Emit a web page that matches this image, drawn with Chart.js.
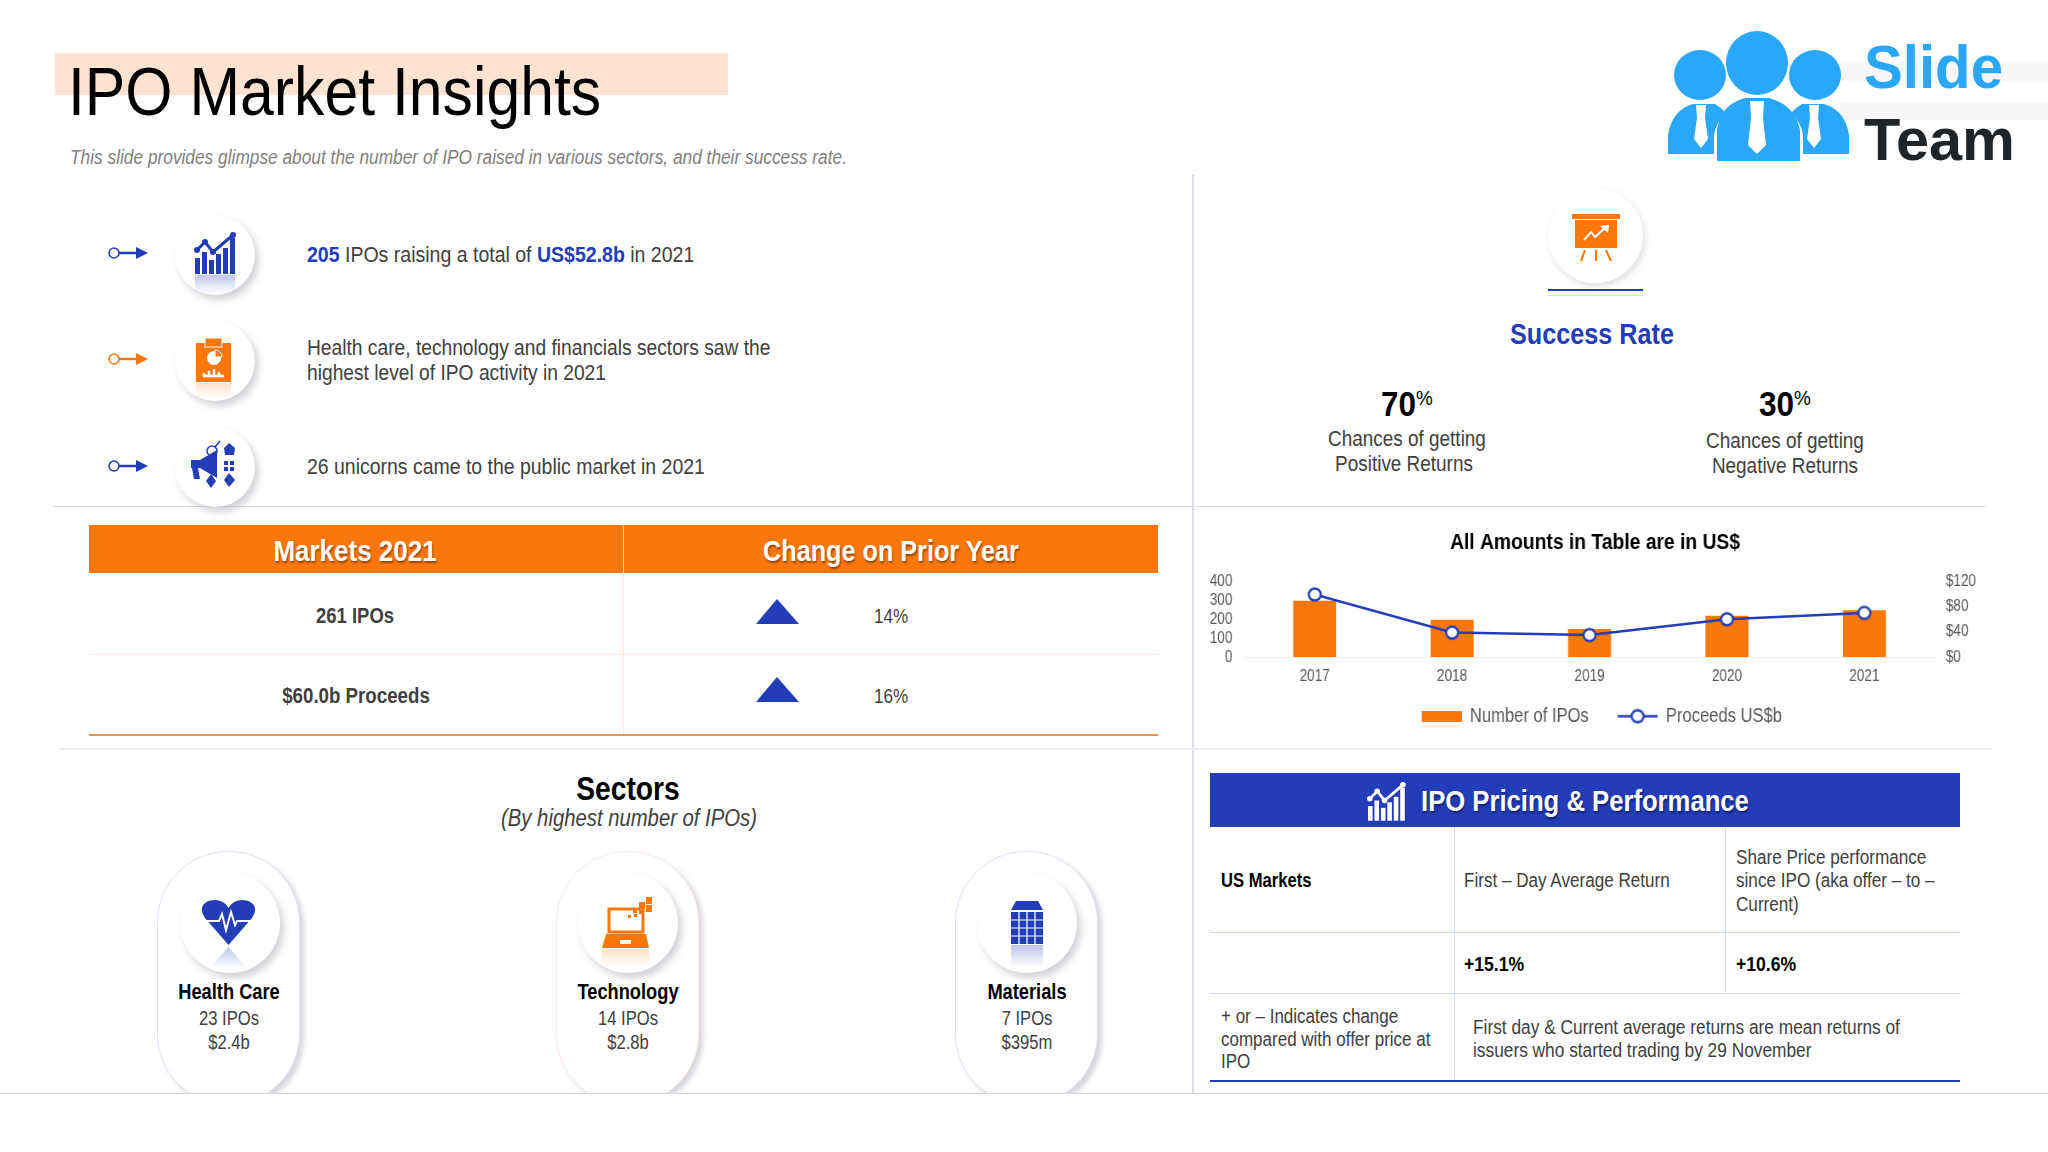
<!DOCTYPE html>
<html>
<head>
<meta charset="utf-8">
<title>IPO Market Insights</title>
<script src="https://cdn.jsdelivr.net/npm/chart.js@4"></script>
<style>
html, body { margin: 0; padding: 0; background: #fff; }
#slide { position: relative; width: 2048px; height: 1152px; overflow: hidden; background: #fff;
  font-family: "Liberation Sans", sans-serif; color: #404040; }
#slide > *, #pills > * { position: absolute; }
/* el original usa una fuente estrecha: se comprime en horizontal */
.t { --n: .87; white-space: nowrap; transform: translateY(-50%) scaleX(var(--n)); transform-origin: left center; line-height: 1; }
.c { --n: .86; white-space: nowrap; transform: translate(-50%, -50%) scaleX(var(--n)); line-height: 1; text-align: center; }
.b { font-weight: 700; --n: .84; }
.k { color: #000; }
.blue { color: #233db8; font-weight: 700; }
.line { background: #dcdce4; }
.dot { border-radius: 50%; background: #fff; box-shadow: 4px 5px 7px rgba(110,110,125,.3); }
.pill { width: 143px; height: 254px; top: 851px; border-radius: 71px; background: #fff; box-sizing: border-box;
  box-shadow: 4px 4px 5px rgba(120,120,140,.3); }
.sh { color: #fff; font-weight: 700; --n: .85; text-shadow: 1px 2px 2px rgba(60,30,0,.55); }
</style>
</head>
<body>
<div id="slide">
  <div style="left:55px;top:53px;width:673px;height:42px;background:#fde3d0"></div>
  <div class="t k" style="left:68px;top:91px;font-size:69px;--n:.88">IPO Market Insights</div>
  <div class="t" style="left:70px;top:157px;font-size:20px;font-style:italic;color:#7f7f7f;--n:.865">This slide provides glimpse about the number of IPO raised in various sectors, and their success rate.</div>

  <div style="left:1840px;top:62px;width:208px;height:20px;background:#f7f7f9"></div>
  <div style="left:1840px;top:103px;width:208px;height:17px;background:#f7f7f9"></div>

  <div class="line" style="left:1192px;top:174px;width:2px;height:919px"></div>
  <div class="line" style="left:53px;top:506px;width:1933px;height:1px"></div>
  <div class="line" style="left:60px;top:748px;width:1932px;height:2px;background:#ececf0"></div>

  <div class="dot" style="left:175px;top:215px;width:80px;height:80px"></div>
  <div class="dot" style="left:175px;top:321px;width:80px;height:80px"></div>
  <div class="dot" style="left:175px;top:427px;width:80px;height:80px"></div>
  <div class="dot" style="left:1548px;top:188px;width:95px;height:95px;box-shadow:2px 3px 6px rgba(110,110,125,.22)"></div>

  <div style="left:1548px;top:289px;width:95px;height:2px;background:#233db8"></div>
  <div style="left:1548px;top:295px;width:95px;height:1px;background:#f9dcc6"></div>

  <div class="t" style="left:307px;top:255px;font-size:22px;--n:.887"><span class="blue">205</span> IPOs raising a total of <span class="blue">US$52.8b</span> in 2021</div>
  <div class="t" style="left:307px;top:348px;font-size:22px;--n:.873">Health care, technology and financials sectors saw the</div>
  <div class="t" style="left:307px;top:373px;font-size:22px;--n:.873">highest level of IPO activity in 2021</div>
  <div class="t" style="left:307px;top:467px;font-size:22px;--n:.884">26 unicorns came to the public market in 2021</div>

  <div class="c blue" style="left:1592px;top:334px;font-size:30px;--n:.84">Success Rate</div>
  <div class="c b k" style="left:1407px;top:403px;font-size:35px;--n:.9">70<sup style="font-size:21px;font-weight:400;vertical-align:11px;line-height:0">%</sup></div>
  <div class="c b k" style="left:1785px;top:403px;font-size:35px;--n:.9">30<sup style="font-size:21px;font-weight:400;vertical-align:11px;line-height:0">%</sup></div>
  <div class="c" style="left:1407px;top:439px;font-size:22px">Chances of getting</div>
  <div class="c" style="left:1404px;top:464px;font-size:22px">Positive Returns</div>
  <div class="c" style="left:1785px;top:441px;font-size:22px">Chances of getting</div>
  <div class="c" style="left:1785px;top:466px;font-size:22px">Negative Returns</div>

  <!-- tabla mercados -->
  <div style="left:89px;top:525px;width:1069px;height:48px;background:#fa770c"></div>
  <div style="left:623px;top:525px;width:1px;height:48px;background:#fcd9bd"></div>
  <div style="left:623px;top:573px;width:1px;height:162px;background:#fbeadf"></div>
  <div style="left:89px;top:654px;width:1069px;height:1px;background:#fbeadf"></div>
  <div style="left:89px;top:734px;width:1069px;height:2px;background:#f39245"></div>
  <div class="c sh" style="left:355px;top:551px;font-size:30px;--n:.866">Markets 2021</div>
  <div class="c sh" style="left:891px;top:551px;font-size:30px;--n:.84">Change on Prior Year</div>
  <div class="c b" style="left:355px;top:616px;font-size:22px">261 IPOs</div>
  <div class="c b" style="left:356px;top:696px;font-size:22px;--n:.85">$60.0b Proceeds</div>
  <div class="c" style="left:891px;top:616px;font-size:20px;--n:.85">14%</div>
  <div class="c" style="left:891px;top:696px;font-size:20px;--n:.85">16%</div>

  <!-- sectores -->
  <div class="c b k" style="left:628px;top:788px;font-size:34px;--n:.83">Sectors</div>
  <div class="c" style="left:629px;top:818px;font-size:24px;font-style:italic;--n:.845">(By highest number of IPOs)</div>
  <div id="pills" style="left:0;top:0;width:2048px;height:1093px;overflow:hidden">
    <div class="pill" style="left:157px;border:1px solid #dfe2f6"></div>
    <div class="pill" style="left:556px;border:1px solid #fbeadf"></div>
    <div class="pill" style="left:955px;border:1px solid #dfe2f6"></div>
    <div class="dot" style="left:180px;top:873px;width:100px;height:100px"></div>
    <div class="dot" style="left:578px;top:873px;width:100px;height:100px"></div>
    <div class="dot" style="left:977px;top:873px;width:100px;height:100px"></div>
  </div>
  <div style="left:0;top:1093px;width:2048px;height:1px;background:#d8d8e0"></div>
  <div class="c b k" style="left:229px;top:992px;font-size:22px;--n:.83">Health Care</div>
  <div class="c" style="left:229px;top:1018px;font-size:20px;--n:.83">23 IPOs</div>
  <div class="c" style="left:229px;top:1042px;font-size:20px;--n:.83">$2.4b</div>
  <div class="c b k" style="left:628px;top:992px;font-size:22px;--n:.83">Technology</div>
  <div class="c" style="left:628px;top:1018px;font-size:20px;--n:.83">14 IPOs</div>
  <div class="c" style="left:628px;top:1042px;font-size:20px;--n:.83">$2.8b</div>
  <div class="c b k" style="left:1027px;top:992px;font-size:22px;--n:.83">Materials</div>
  <div class="c" style="left:1027px;top:1018px;font-size:20px;--n:.83">7 IPOs</div>
  <div class="c" style="left:1027px;top:1042px;font-size:20px;--n:.83">$395m</div>

  <!-- tabla pricing -->
  <div style="left:1210px;top:773px;width:750px;height:54px;background:#233db8"></div>
  <div style="left:1454px;top:827px;width:1px;height:254px;background:#d5daf3"></div>
  <div style="left:1725px;top:827px;width:1px;height:166px;background:#d5daf3"></div>
  <div style="left:1210px;top:932px;width:750px;height:1px;background:#d5daf3"></div>
  <div style="left:1210px;top:993px;width:750px;height:1px;background:#d5daf3"></div>
  <div style="left:1210px;top:1080px;width:750px;height:2px;background:#233db8"></div>
  <div class="t sh" style="left:1421px;top:801px;font-size:30px;text-shadow:1px 2px 2px rgba(0,0,40,.5);--n:.855">IPO Pricing &amp; Performance</div>
  <div class="t b k" style="left:1221px;top:880px;font-size:20px;--n:.83">US Markets</div>
  <div class="t" style="left:1464px;top:880px;font-size:20px;--n:.854">First – Day Average Return</div>
  <div class="t" style="left:1736px;top:857px;font-size:20px;--n:.856">Share Price performance</div>
  <div class="t" style="left:1736px;top:880px;font-size:20px;--n:.856">since IPO (aka offer – to –</div>
  <div class="t" style="left:1736px;top:904px;font-size:20px;--n:.856">Current)</div>
  <div class="t b k" style="left:1464px;top:964px;font-size:20px;--n:.88">+15.1%</div>
  <div class="t b k" style="left:1736px;top:964px;font-size:20px;--n:.88">+10.6%</div>
  <div class="t" style="left:1221px;top:1016px;font-size:20px;--n:.85">+ or – Indicates change</div>
  <div class="t" style="left:1221px;top:1039px;font-size:20px;--n:.85">compared with offer price at</div>
  <div class="t" style="left:1221px;top:1061px;font-size:20px;--n:.85">IPO</div>
  <div class="t" style="left:1473px;top:1027px;font-size:20px;--n:.865">First day &amp; Current average returns are mean returns of</div>
  <div class="t" style="left:1473px;top:1050px;font-size:20px;--n:.865">issuers who started trading by 29 November</div>

  <!-- iconos -->
  <svg width="2048" height="1152" style="left:0;top:0;pointer-events:none">
    <defs>
      <linearGradient id="fb" x1="0" y1="0" x2="0" y2="1"><stop offset="0" stop-color="#233db8" stop-opacity=".3"/><stop offset="1" stop-color="#233db8" stop-opacity="0"/></linearGradient>
      <linearGradient id="fo" x1="0" y1="0" x2="0" y2="1"><stop offset="0" stop-color="#fa770c" stop-opacity=".22"/><stop offset="1" stop-color="#fa770c" stop-opacity="0"/></linearGradient>
      <g id="growth">
        <rect x="195" y="258" width="5" height="16"/><rect x="202" y="252" width="5" height="22"/>
        <rect x="209" y="260" width="5" height="14"/><rect x="216" y="254" width="5" height="20"/>
        <rect x="223" y="248" width="5" height="26"/><rect x="230" y="238" width="5" height="36"/>
        <path d="M197 250 L205 242 L213 252 L233 235" fill="none" stroke="currentColor" stroke-width="3"/>
        <circle cx="197" cy="250" r="3"/><circle cx="205" cy="242" r="3"/><circle cx="213" cy="252" r="3"/><circle cx="233" cy="235" r="3"/>
      </g>
      <g id="arrow">
        <circle cx="114" cy="0" r="5" fill="none" stroke="currentColor" stroke-width="1.5"/>
        <path d="M119 0 H138" stroke="currentColor" stroke-width="2.5"/>
        <path d="M136 -6 L148 0 L136 6 Z" fill="currentColor"/>
      </g>
    </defs>

    <use href="#arrow" transform="translate(0 253)" style="color:#233db8"/>
    <use href="#arrow" transform="translate(0 359)" style="color:#fa770c"/>
    <use href="#arrow" transform="translate(0 466)" style="color:#233db8"/>

    <use href="#growth" fill="#233db8" style="color:#233db8"/>
    <rect x="195" y="275" width="40" height="18" fill="url(#fb)"/>
    <use href="#growth" fill="#fff" style="color:#fff" transform="translate(1368 783) scale(.92) translate(-195 -233)"/>

    <rect x="196" y="343" width="35" height="39" rx="1" fill="#fa770c"/>
    <rect x="205" y="338" width="17" height="9" fill="#fa770c" stroke="#fff"/>
    <circle cx="214" cy="358" r="7" fill="#fff"/>
    <path d="M214 358 V351 A7 7 0 0 1 221 358 Z" fill="#fa770c" stroke="#fff" transform="translate(1 -1)"/>
    <path d="M204 376 V373 M209 376 V371 M214 376 V369 M219 376 V372 M224 376 H203" stroke="#fff" stroke-width="2.5"/>
    <rect x="196" y="383" width="35" height="15" fill="url(#fo)"/>

    <path d="M191 460 H200 L217 450 V478 L200 468 H198 L200 479 H194 L192 468 H191 Z" fill="#233db8"/>
    <circle cx="212" cy="451" r="5" fill="none" stroke="#233db8" stroke-width="1.5"/>
    <path d="M215 447 L220 441" stroke="#233db8" stroke-width="1.5"/>
    <path d="M229 443 L235 448 L234 455 L225 455 L224 448 Z M224 461 h4 v4 h-4z M230 461 h4 v4 h-4z M224 467 h4 v4 h-4z M230 467 h4 v4 h-4z" fill="#233db8"/>
    <path d="M211 474 L216 481 L211 488 L206 481 Z" fill="#233db8"/>
    <path d="M229 473 L235 480 L229 487 L224 480 Z" fill="#233db8"/>

    <rect x="1572" y="214" width="48" height="5" fill="#fa770c"/>
    <rect x="1575" y="220" width="42" height="28" fill="#fa770c"/>
    <path d="M1584 240 L1591 232 L1595 237 L1606 227" fill="none" stroke="#fff" stroke-width="2"/>
    <path d="M1600 226 L1609 225 L1608 233 Z" fill="#fff"/>
    <path d="M1585 250 L1581 261 M1596 250 V261 M1606 250 L1611 261" stroke="#fa770c" stroke-width="2"/>

    <path d="M228.5 945 L205 918 C197 906 206 900 215 900 C222 900 226 904 228.5 908 C231 904 235 900 242 900 C251 900 260 906 252 918 Z" fill="#233db8"/>
    <path d="M203 921 H219 L222 914 L226 930 L231 912 L235 925 L237 921 H255" fill="none" stroke="#fff" stroke-width="2"/>
    <path d="M228.5 947 L210 968 H247 Z" fill="url(#fb)"/>

    <rect x="609" y="909" width="34" height="23" fill="none" stroke="#fa770c" stroke-width="3"/>
    <path d="M606 934 H646 L649 948 H602 Z" fill="#fa770c"/>
    <rect x="620" y="940" width="11" height="4" fill="#fff"/>
    <path d="M646 897 h6 v7 h-6z M646 905 h6 v7 h-6z M639 902 h6 v6 h-6z M639 909 h5 v5 h-5z M633 908 h4 v5 h-4z M628 915 h3 v3 h-3z M634 914 h3 v3 h-3z" fill="#fa770c"/>
    <rect x="602" y="949" width="47" height="18" fill="url(#fo)"/>

    <path d="M1016 901 H1038 L1043 910 H1011 Z" fill="#233db8"/>
    <rect x="1011" y="912" width="32" height="32" fill="#233db8"/>
    <path d="M1019 912 V944 M1027 912 V944 M1035 912 V944 M1011 920 H1043 M1011 928 H1043 M1011 936 H1043" stroke="#fff" stroke-width="1.2"/>
    <rect x="1011" y="945" width="32" height="22" fill="url(#fb)"/>

    <!-- logo -->
    <g fill="#2aa7f8">
      <ellipse cx="1757" cy="63" rx="31" ry="32"/>
      <ellipse cx="1700" cy="75" rx="26" ry="25"/>
      <ellipse cx="1815" cy="75" rx="26" ry="25"/>
      <path d="M1668 154 V135 Q1672 110 1693 104 L1715 104 Q1722 108 1726 113 Q1716 122 1714 135 V154 Z"/>
      <path d="M1849 154 V135 Q1845 110 1824 104 L1802 104 Q1795 108 1791 113 Q1801 122 1803 135 V154 Z"/>
      <path d="M1717 161 V130 Q1720 105 1745 98 L1769 98 Q1795 105 1800 130 V161 Z"/>
    </g>
    <g fill="#fff">
      <path d="M1750 101 H1764 L1763 118 L1766 145 L1757 154 L1748 145 L1751 118 Z"/>
      <path d="M1696 105 H1706 L1705 118 L1708 139 L1701 148 L1694 139 L1697 118 Z"/>
      <path d="M1809 105 H1819 L1818 118 L1821 139 L1814 148 L1807 139 L1810 118 Z"/>
    </g>
    <text x="1864" y="88" font-family="Liberation Sans" font-weight="700" font-size="62" fill="#2aa7f8" textLength="139" lengthAdjust="spacingAndGlyphs">Slide</text>
    <text x="1864" y="160" font-family="Liberation Sans" font-weight="700" font-size="60" fill="#1f2428" textLength="151" lengthAdjust="spacingAndGlyphs">Team</text>

    <path d="M777 599 L799 624 H756 Z" fill="#233db8"/>
    <path d="M777 677 L799 702 H756 Z" fill="#233db8"/>
  </svg>

  <canvas id="combo" width="953" height="220" style="left:1190px;top:520px;transform:scaleX(.85);transform-origin:0 0"></canvas>
</div>

<script>
// Datos del grafico
const years = ['2017', '2018', '2019', '2020', '2021'];
const numberOfIpos = [298, 197, 149, 218, 248];
const proceeds = [99, 39, 35, 60, 70];
const leftTicks = [0, 100, 200, 300, 400];
const rightTicks = [0, 40, 80, 120];

const BLUE = '#233db8';
const ORANGE = '#fa770c';
const TEXT = '#595959';
const FONT = '"Liberation Sans", sans-serif';
// El canvas se comprime en horizontal para imitar la fuente estrecha
const SQUEEZE = 0.85;
// Ancho del simbolo de la leyenda y espacio extra entre elementos
const SYMBOL_W = Math.round(40 / SQUEEZE);
const ITEM_GAP = 16;

// Marcador: elipse en el canvas, circulo una vez comprimido
function marker() {
    const c = document.createElement('canvas');
    c.width = Math.ceil(17 / SQUEEZE);
    c.height = 17;
    const ctx = c.getContext('2d');
    ctx.strokeStyle = BLUE;
    ctx.fillStyle = '#fff';
    ctx.lineWidth = 2.5;
    ctx.beginPath();
    ctx.ellipse(c.width / 2, 8.5, 6 / SQUEEZE, 6, 0, 0, Math.PI * 2);
    ctx.fill();
    ctx.stroke();
    return c;
}

// Simbolos de la leyenda
function barSymbol() {
    const c = document.createElement('canvas');
    c.width = SYMBOL_W + ITEM_GAP;
    c.height = 11;
    const ctx = c.getContext('2d');
    ctx.fillStyle = ORANGE;
    ctx.fillRect(ITEM_GAP, 0, SYMBOL_W, 11);
    return c;
}

function lineSymbol() {
    const c = document.createElement('canvas');
    c.width = SYMBOL_W + ITEM_GAP;
    c.height = 17;
    const ctx = c.getContext('2d');
    ctx.strokeStyle = BLUE;
    ctx.lineWidth = 2.5;
    ctx.beginPath();
    ctx.moveTo(ITEM_GAP, 8.5);
    ctx.lineTo(c.width, 8.5);
    ctx.stroke();
    ctx.drawImage(marker(), ITEM_GAP + (SYMBOL_W - Math.ceil(17 / SQUEEZE)) / 2, 0);
    return c;
}

new Chart(document.getElementById('combo'), {
    type: 'bar',
    data: {
        labels: years,
        datasets: [
            {
                type: 'line',
                label: 'Proceeds US$b',
                data: proceeds,
                yAxisID: 'y1',
                order: 0,
                borderColor: BLUE,
                borderWidth: 2.5,
                tension: 0,
                pointStyle: marker(),
                pointRadius: 6
            },
            {
                label: 'Number of IPOs',
                data: numberOfIpos,
                yAxisID: 'y',
                order: 1,
                backgroundColor: ORANGE,
                barPercentage: 0.313,
                categoryPercentage: 1
            }
        ]
    },
    options: {
        responsive: false,
        animation: false,
        devicePixelRatio: 1,
        layout: { padding: { top: 0, bottom: 4, left: 0, right: 0 } },
        plugins: {
            title: {
                display: true,
                text: 'All Amounts in Table are in US$',
                color: '#000',
                font: { family: FONT, size: 22.7, weight: 'bold' },
                padding: { top: 9, bottom: 25 }
            },
            legend: {
                position: 'bottom',
                labels: {
                    color: TEXT,
                    font: { family: FONT, size: 19.5 },
                    usePointStyle: true,
                    pointStyleWidth: SYMBOL_W + ITEM_GAP,
                    padding: 18,
                    generateLabels: () => [
                        { text: 'Number of IPOs', pointStyle: barSymbol(), fontColor: TEXT, lineWidth: 0, datasetIndex: 1 },
                        { text: 'Proceeds US$b', pointStyle: lineSymbol(), fontColor: TEXT, lineWidth: 0, datasetIndex: 0 }
                    ]
                }
            },
            tooltip: { enabled: false }
        },
        scales: {
            x: {
                grid: { display: false },
                border: { color: '#efeff2' },
                ticks: { color: TEXT, font: { family: FONT, size: 16 }, padding: 2, maxRotation: 0 }
            },
            y: {
                position: 'left',
                min: 0,
                max: 400,
                grid: { display: false },
                border: { display: false },
                afterBuildTicks: (axis) => { axis.ticks = leftTicks.map(v => ({ value: v })); },
                afterFit: (axis) => { axis.width = 56 / SQUEEZE; },
                ticks: { color: TEXT, font: { family: FONT, size: 16 }, padding: 8, autoSkip: false }
            },
            y1: {
                position: 'right',
                min: 0,
                max: 120,
                grid: { display: false },
                border: { display: false },
                afterBuildTicks: (axis) => { axis.ticks = rightTicks.map(v => ({ value: v })); },
                afterFit: (axis) => { axis.width = 67 / SQUEEZE; },
                ticks: { color: TEXT, font: { family: FONT, size: 16 }, padding: 7, autoSkip: false, callback: (v) => '$' + v }
            }
        }
    }
});
</script>
</body>
</html>
